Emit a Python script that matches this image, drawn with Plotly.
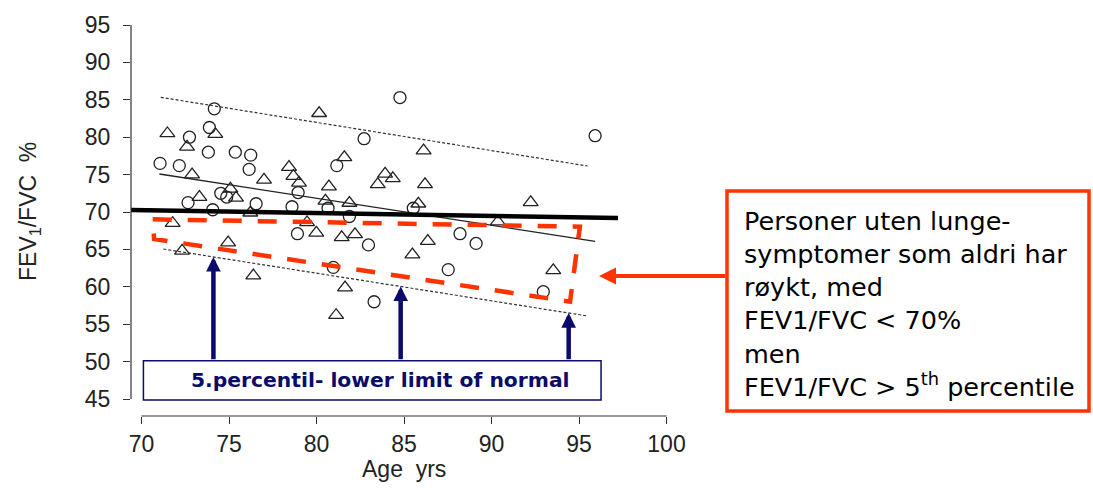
import numpy as np
import plotly.graph_objects as go

# ---- data -------------------------------------------------------------
# subjects drawn as circles
circ_age = [74.16, 73.88, 72.74, 73.82, 75.36, 76.24, 71.06, 72.16, 76.15, 78.95,
            74.53, 74.87, 72.66, 76.55, 74.07, 78.60, 78.91, 84.77, 82.72, 81.16,
            80.66, 81.88, 85.53, 82.97, 88.20, 89.12, 95.92, 92.96, 80.96, 87.53,
            83.29]
circ_ratio = [83.8, 81.3, 80.0, 78.0, 78.0, 77.6, 76.5, 76.2, 75.7, 72.6,
              72.5, 72.0, 71.25, 71.1, 70.3, 70.7, 67.1, 85.3, 79.8, 76.2,
              70.5, 69.4, 70.5, 65.6, 67.1, 65.8, 80.2, 59.35, 62.6, 62.3,
              58.0]

# subjects drawn as triangles
tri_age = [80.15, 71.48, 74.22, 72.60, 72.89, 77.00, 78.43, 78.68, 79.00, 80.71,
           75.08, 75.40, 73.31, 80.51, 76.22, 71.78, 79.46, 79.99, 74.95, 72.32,
           86.12, 81.59, 83.92, 84.36, 83.50, 86.20, 81.88, 85.82, 81.44, 82.20,
           86.36, 85.48, 90.36, 92.24, 93.53, 76.39, 81.63, 81.12]
tri_ratio = [83.2, 80.5, 80.4, 78.7, 75.0, 74.3, 76.0, 74.8, 73.9, 73.4,
             73.1, 71.9, 72.0, 71.5, 69.9, 68.5, 68.6, 67.2, 65.9, 64.8,
             78.2, 77.3, 75.1, 74.5, 73.7, 73.7, 71.2, 71.1, 66.6, 67.0,
             66.1, 64.3, 68.7, 71.3, 62.2, 61.5, 59.9, 56.2]

# fixed 70 % cut-off
fixed_age = [69.4, 97.23]
fixed_ratio = [70.27, 69.2]

# regression line with upper / lower 5th percentile limits
reg_age = [71.02, 95.92]
reg_ratio = [75.08, 66.08]
upper_age = [71.10, 95.48]
upper_ratio = [85.33, 76.15]
lln_age = [71.25, 95.48]
lln_ratio = [65.05, 56.1]

# region between the fixed cut-off and the lower limit of normal
zone_age = [70.64, 95.05, 94.49, 70.72]
zone_ratio = [69.02, 68.03, 58.01, 66.39]

# ages where the lower limit of normal is pointed out
arrow_age = [74.11, 84.81, 94.41]

x_ticks = [70, 75, 80, 85, 90, 95, 100]
y_ticks = [45, 50, 55, 60, 65, 70, 75, 80, 85, 90, 95]

callout_lines = [
    "Personer uten lunge-",
    "symptomer som aldri har",
    "røykt, med",
    "FEV1/FVC &lt; 70%",
    "men",
    "FEV1/FVC &gt; 5<sup>th</sup> percentile",
]

# ---- styling ----------------------------------------------------------
AXIS_FONT = "Liberation Sans, Arial, sans-serif"
BOX_FONT = "DejaVu Sans, Verdana, sans-serif"
INK = "#222222"
NAVY = "#0b0b6b"
RED = "#ff3300"

W, H = 1093, 490
ML, MB = 131, 74
plot_w, plot_h = W - ML, H - MB


def px_x(p):
    return (p - ML) / plot_w


def px_y(p):
    return (H - MB - p) / plot_h


fig = go.Figure()

fig.add_trace(go.Scatter(
    x=circ_age, y=circ_ratio, mode="markers",
    marker=dict(symbol="circle-open", size=12, color=INK, line=dict(width=1.3)),
))
fig.add_trace(go.Scatter(
    x=tri_age, y=tri_ratio, mode="markers",
    marker=dict(symbol="triangle-up-open", size=13, color=INK, line=dict(width=1.3)),
))

fig.add_trace(go.Scatter(x=upper_age, y=upper_ratio, mode="lines",
                         line=dict(color="#333333", width=1.2, dash="3px,2px")))
fig.add_trace(go.Scatter(x=lln_age, y=lln_ratio, mode="lines",
                         line=dict(color="#333333", width=1.2, dash="3px,2px")))
fig.add_trace(go.Scatter(x=reg_age, y=reg_ratio, mode="lines",
                         line=dict(color=INK, width=1.3)))
fig.add_trace(go.Scatter(x=fixed_age, y=fixed_ratio, mode="lines",
                         line=dict(color="black", width=4.5)))

fig.add_trace(go.Scatter(
    x=zone_age + zone_age[:1], y=zone_ratio + zone_ratio[:1], mode="lines",
    line=dict(color=RED, width=4.5, dash="19px,16px"),
))

# detached axis lines
shapes = [
    dict(type="line", xref="paper", x0=0, x1=0, yref="y", y0=y_ticks[0], y1=y_ticks[-1],
         line=dict(color="#333333", width=1.2)),
    dict(type="line", xref="x", x0=x_ticks[0], x1=x_ticks[-1], yref="paper", y0=0, y1=0,
         line=dict(color="#333333", width=1.2)),
]

# label box for the lower limit of normal
box_left, box_right, box_bottom, box_top = 70.11, 96.26, 44.87, 50.12
shapes.append(dict(type="rect", xref="x", yref="y", x0=box_left, x1=box_right,
                   y0=box_bottom, y1=box_top, line=dict(color=NAVY, width=1.5),
                   fillcolor="white", layer="above"))

# callout box on the right
shapes.append(dict(type="rect", xref="paper", yref="paper",
                   x0=px_x(727), x1=px_x(1089), y0=px_y(411), y1=px_y(191),
                   line=dict(color=RED, width=3.5)))

annotations = []
lln_at = np.interp(arrow_age, lln_age, lln_ratio)
for a, tip in zip(arrow_age, lln_at):
    annotations.append(dict(
        x=a, y=float(tip), xref="x", yref="y", ax=a, ay=box_top, axref="x", ayref="y",
        text="", showarrow=True, arrowhead=2, arrowsize=0.65, arrowwidth=4.5,
        arrowcolor=NAVY, standoff=0, startstandoff=0,
    ))

annotations.append(dict(
    x=83.66, y=(box_bottom + box_top) / 2, xref="x", yref="y",
    xanchor="center", yanchor="middle",
    text="<b>5.percentil- lower limit of normal</b>", showarrow=False,
    font=dict(family=BOX_FONT, size=20.3, color=NAVY),
))

# arrow from the callout towards the marked zone
annotations.append(dict(
    x=px_x(599), y=px_y(276), xref="paper", yref="paper", ax=128, ay=0,
    text="", showarrow=True, arrowhead=2, arrowsize=0.85, arrowwidth=4,
    arrowcolor=RED, standoff=0, startstandoff=0,
))

annotations.append(dict(
    x=px_x(742), y=px_y(303.75), xref="paper", yref="paper",
    xanchor="left", yanchor="middle", align="left",
    text="<br>".join(callout_lines), showarrow=False,
    font=dict(family=BOX_FONT, size=25.5, color="black"),
))

# axis titles
annotations.append(dict(
    x=85, y=px_y(469), xref="x", yref="paper", xanchor="center", yanchor="middle",
    text="Age\u00a0 yrs", showarrow=False,
    font=dict(family=AXIS_FONT, size=23, color=INK),
))
annotations.append(dict(
    x=px_x(29), y=70, xref="paper", yref="y", xanchor="center", yanchor="middle",
    text="FEV<sub>1</sub>/FVC\u00a0 %", textangle=-90, showarrow=False,
    font=dict(family=AXIS_FONT, size=23, color=INK),
))

# 70 sits at 141.5 px, 17.5 px per year; 45 sits at 399 px, 7.48 px per unit
x_lo = 70 - (141.5 - ML) / 17.5
y_lo = 45 - (H - MB - 399) / 7.48

fig.update_layout(
    width=W, height=H,
    margin=dict(l=ML, r=0, t=0, b=MB, pad=0),
    paper_bgcolor="white", plot_bgcolor="white",
    showlegend=False,
    shapes=shapes, annotations=annotations,
    xaxis=dict(range=[x_lo, x_lo + plot_w / 17.5], tickvals=x_ticks,
               ticktext=[str(v) for v in x_ticks], ticks="outside", ticklen=7,
               tickwidth=1.2, tickcolor="#333333", showgrid=False, zeroline=False,
               showline=False, tickfont=dict(family=AXIS_FONT, size=23, color=INK)),
    yaxis=dict(range=[y_lo, y_lo + plot_h / 7.48], tickvals=y_ticks,
               ticktext=[str(v) for v in y_ticks], ticks="outside", ticklen=7,
               tickwidth=1.2, tickcolor="#333333", showgrid=False, zeroline=False,
               showline=False, ticklabelstandoff=8,
               tickfont=dict(family=AXIS_FONT, size=23, color=INK)),
)

fig.write_html("out.html")
